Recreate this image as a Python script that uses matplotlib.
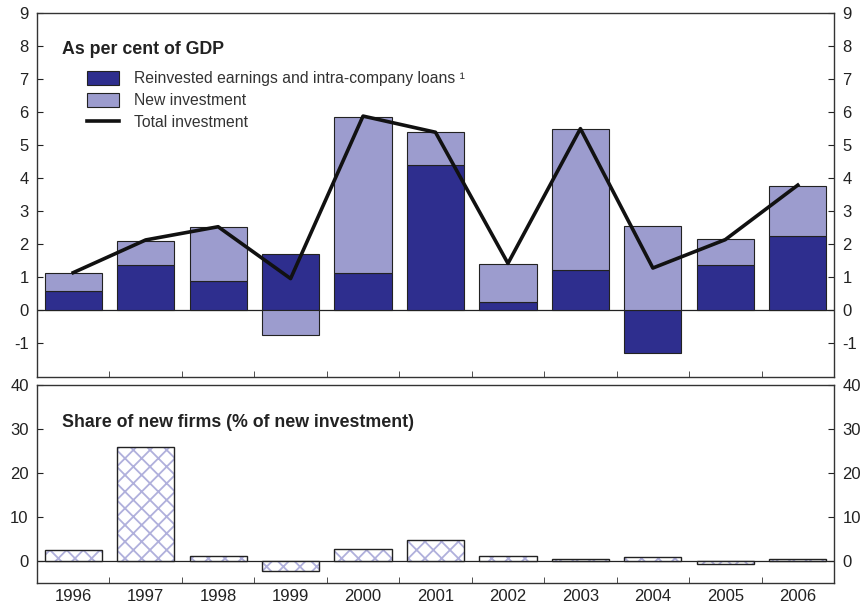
import numpy as np
import matplotlib.pyplot as plt
from matplotlib.patches import Patch
from matplotlib.lines import Line2D

plt.rcParams['font.family'] = ['Liberation Sans', 'DejaVu Sans']
plt.rcParams['hatch.linewidth'] = 1.3

years = ['1996', '1997', '1998', '1999', '2000', '2001', '2002', '2003', '2004', '2005', '2006']
reinvested = [0.58, 1.36, 0.89, 1.69, 1.13, 4.38, 0.25, 1.21, -1.29, 1.36, 2.25]
new_inv = [0.55, 0.74, 1.62, -0.77, 4.72, 1.00, 1.14, 4.28, 2.55, 0.78, 1.51]
total = [1.13, 2.12, 2.52, 0.95, 5.87, 5.38, 1.41, 5.49, 1.27, 2.13, 3.78]
share_new = [2.4, 25.8, 1.0, -2.4, 2.7, 4.6, 1.1, 0.3, 0.7, -0.8, 0.3]

dark = '#2e2e8e'
light = '#9c9cce'
hatch_col = '#b0b0dc'
x = np.arange(len(years))
w = 0.79

fig = plt.figure(figsize=(8.64, 6.07), dpi=100)
ax1 = fig.add_axes([0.0428, 0.3794, 0.9225, 0.5997])
ax2 = fig.add_axes([0.0428, 0.0390, 0.9225, 0.3267])

# stacked bars: positive parts stack, negative parts go below zero
r = np.array(reinvested)
n = np.array(new_inv)
n_bottom = np.where((n > 0) & (r > 0), r, 0)
ax1.bar(x, r, w, color=dark, edgecolor='#222222', linewidth=0.8, zorder=2)
ax1.bar(x, n, w, bottom=n_bottom, color=light, edgecolor='#222222', linewidth=0.8, zorder=2)
ax1.plot(x, total, color='#111111', linewidth=2.6, zorder=3)
ax1.axhline(0, color='#222222', linewidth=0.9, zorder=1)
ax1.set_ylim(-2.02, 9)
ax1.set_yticks(range(-1, 10))
ax1.set_yticklabels([str(v) for v in range(-1, 10)])
ax1.text(0.031, 0.9, 'As per cent of GDP', transform=ax1.transAxes, fontsize=12.8,
         fontweight='bold', color='#222222', va='center')
handles = [Patch(facecolor=dark, edgecolor='#222222', linewidth=0.8),
           Patch(facecolor=light, edgecolor='#222222', linewidth=0.8),
           Line2D([], [], color='#111111', linewidth=2.6)]
labels = ['Reinvested earnings and intra-company loans \u00b9', 'New investment', 'Total investment']
leg = ax1.legend(handles, labels, loc='upper left', bbox_to_anchor=(0.063, 0.84), frameon=False,
                 fontsize=11.3, handlelength=2.0, handleheight=1.0, handletextpad=1.0,
                 labelspacing=0.42, borderpad=0, borderaxespad=0)
for t in leg.get_texts():
    t.set_color('#333333')

# bottom panel: hatched bars
ax2.bar(x, share_new, w, color='white', edgecolor=hatch_col, hatch='xx', linewidth=0, zorder=2)
ax2.bar(x, share_new, w, color='none', edgecolor='#222222', linewidth=1.0, zorder=3)
ax2.axhline(0, color='#222222', linewidth=0.9, zorder=1)
ax2.set_ylim(-5.2, 40)
ax2.set_yticks([0, 10, 20, 30, 40])
ax2.text(0.031, 0.81, 'Share of new firms (% of new investment)', transform=ax2.transAxes,
         fontsize=12.8, fontweight='bold', color='#222222', va='center')

for ax in (ax1, ax2):
    ax.set_xlim(-0.5, len(years) - 0.5)
    ax.set_xticks(x)
    ax.set_xticks(np.arange(0.5, len(years) - 1, 1), minor=True)
    ax.tick_params(axis='x', which='major', length=0, labelsize=12, colors='#222222', pad=4)
    ax.tick_params(axis='x', which='minor', length=4, direction='in', color='#333333')
    ax.tick_params(axis='y', direction='in', length=4, labelsize=12, left=True, right=True,
                   labelleft=True, labelright=True, colors='#222222', pad=6)
    for s in ax.spines.values():
        s.set_color('#333333')
        s.set_linewidth(1.0)
ax1.set_xticklabels([])
ax2.set_xticklabels(years)

fig.savefig('out.png', dpi=100)
